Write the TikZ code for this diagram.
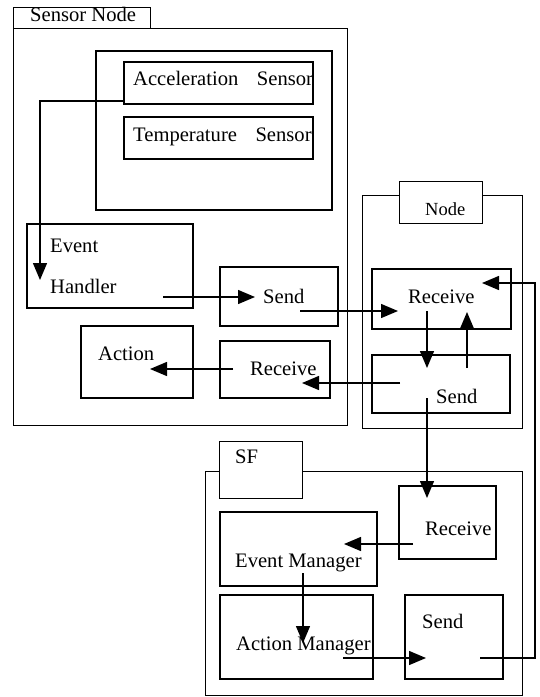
\documentclass[tikz,border=0pt]{standalone}
\usepackage{fontspec}
\setmainfont{Liberation Serif}
\usepackage{tikz}
\usetikzlibrary{arrows.meta,scopes}

\begin{document}
\begin{tikzpicture}[
    x=1pt,y=-1pt,
    frame/.style={rectangle,draw,line width=1.2pt,inner sep=0pt,anchor=north west},
    box/.style={rectangle,draw,line width=1.5pt,inner sep=0pt,anchor=north west},
    tab/.style={box,line width=1.3pt,fill=white},
    lbl/.style={anchor=base west,inner sep=0pt,font=\fontsize{20.6}{24}\selectfont},
    flow/.style={line width=1.4pt,->,>={Triangle[length=17pt,width=14pt]}},
]
\useasboundingbox (0,0) rectangle (539,697);

%%%
% Sensor node
\node[frame,minimum width=334pt,minimum height=397pt] (snframe) at (13,28) {};
\node[tab,minimum width=137pt,minimum height=21pt] (sntab) at (13,7) {};
\node[lbl] (sntext) at (30,21) {Sensor Node};

\node[frame,line width=1.5pt,minimum width=236pt,minimum height=159pt] (sensors) at (95,50) {};
\node[box,minimum width=189pt,minimum height=42pt] (acc) at (123,61) {};
\node[lbl] (acctext) at (133,85) {Acceleration\hspace{0.9em}Sensor};
\node[box,minimum width=189pt,minimum height=42pt] (temp) at (123,116) {};
\node[lbl] (temptext) at (133,141) {Temperature\hspace{0.9em}Sensor};

\node[box,minimum width=166pt,minimum height=84pt] (handler) at (26,223) {};
\node[lbl] (evtext) at (50,252) {Event};
\node[lbl] (hdltext) at (50,293) {Handler};

\node[box,minimum width=118pt,minimum height=59pt] (snsend) at (219,266) {};
\node[lbl] (snsendtext) at (263,303) {Send};
\node[box,minimum width=112pt,minimum height=72pt] (action) at (80,325) {};
\node[lbl] (actiontext) at (98,360) {Action};
\node[box,minimum width=110pt,minimum height=57pt] (snrecv) at (219,340) {};
\node[lbl] (snrecvtext) at (250,375) {Receive};

%%%
% Forwarding node
\node[frame,minimum width=160pt,minimum height=233pt] (ndframe) at (362,195) {};
\node[tab,minimum width=83pt,minimum height=42pt] (ndtab) at (399,181) {};
\node[lbl,font=\fontsize{18.5}{22}\selectfont] (ndtext) at (425,215) {Node};
\node[box,minimum width=139pt,minimum height=60pt] (ndrecv) at (371,268) {};
\node[lbl] (ndrecvtext) at (408,303) {Receive};
\node[box,minimum width=138pt,minimum height=58pt] (ndsend) at (371,354) {};
\node[lbl] (ndsendtext) at (436,403) {Send};

%%%
% SF
\node[frame,minimum width=317pt,minimum height=224pt] (sfframe) at (205,471) {};
\node[tab,minimum width=83pt,minimum height=57pt] (sftab) at (219,441) {};
\node[lbl] (sftext) at (235,463) {SF};
\node[box,minimum width=97pt,minimum height=73pt] (sfrecv) at (398,485) {};
\node[lbl] (sfrecvtext) at (425,535) {Receive};
\node[box,minimum width=157pt,minimum height=74pt] (evmgr) at (219,511) {};
\node[lbl] (evmgrtext) at (235,567) {Event Manager};
\node[box,minimum width=153pt,minimum height=84pt] (actmgr) at (219,594) {};
\node[lbl] (actmgrtext) at (236,650) {Action Manager};
\node[box,minimum width=98pt,minimum height=84pt] (sfsend) at (404,594) {};
\node[lbl] (sfsendtext) at (422,628) {Send};

%%%
% end points of the message flow
\coordinate (acc-out) at (123,101);
\coordinate (hdl-in) at (40,280);
\coordinate (hdl-out) at (163,297);
\coordinate (snsend-in) at (255,297);
\coordinate (snsend-out) at (300,311);
\coordinate (ndrecv-in) at (398,311);
\coordinate (ndrecv-out) at (427,311);
\coordinate (ndrecv-up) at (467,312);
\coordinate (ndsend-in) at (427,368);
\coordinate (ndsend-up) at (467,368);
\coordinate (ndsend-out) at (400,383);
\coordinate (snrecv-in) at (302,383);
\coordinate (snrecv-out) at (233,369);
\coordinate (action-in) at (150,369);
\coordinate (ndsend-down) at (427,398);
\coordinate (sfrecv-in) at (427,498);
\coordinate (sfrecv-out) at (413,544);
\coordinate (evmgr-in) at (344,544);
\coordinate (evmgr-out) at (303,573);
\coordinate (actmgr-in) at (303,643);
\coordinate (actmgr-out) at (343,658);
\coordinate (sfsend-in) at (426,658);
\coordinate (sfsend-out) at (480,658);
\coordinate (loop) at (535,283);
\coordinate (ndrecv-back) at (482,283);

{[flow]
    \draw (acc-out) -| (hdl-in);
    \draw (hdl-out) -- (snsend-in);
    \draw (snsend-out) -- (ndrecv-in);
    \draw (ndrecv-out) -- (ndsend-in);
    \draw (ndsend-up) -- (ndrecv-up);
    \draw (ndsend-out) -- (snrecv-in);
    \draw (snrecv-out) -- (action-in);
    \draw (ndsend-down) -- (sfrecv-in);
    \draw (sfrecv-out) -- (evmgr-in);
    \draw (evmgr-out) -- (actmgr-in);
    \draw (actmgr-out) -- (sfsend-in);
    \draw (sfsend-out) -| (loop) -- (ndrecv-back);
}

\end{tikzpicture}
\end{document}
